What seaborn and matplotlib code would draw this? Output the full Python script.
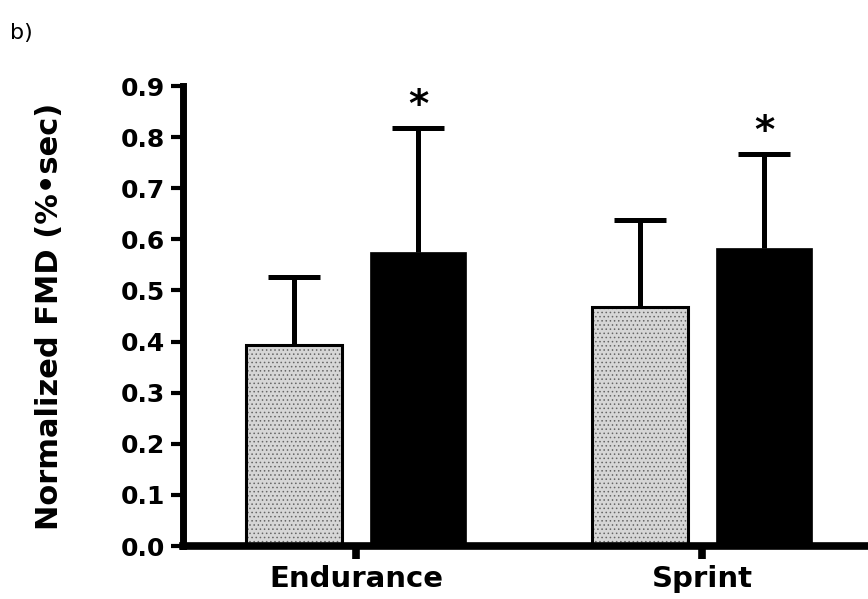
import matplotlib
matplotlib.use("Agg")
import matplotlib.pyplot as plt
import numpy as np
import pandas as pd
import seaborn as sns

# Data: normalized FMD means with upper SE, per training group
groups = ["Endurance", "Sprint"]
phases = ["Pre", "Post"]
pre_mean = [0.393, 0.468]
post_mean = [0.575, 0.583]
pre_err = [0.133, 0.170]
post_err = [0.243, 0.184]
yticks = [0.0, 0.1, 0.2, 0.3, 0.4, 0.5, 0.6, 0.7, 0.8, 0.9]

df = pd.DataFrame({
    "group": groups * 2,
    "phase": [phases[0]] * 2 + [phases[1]] * 2,
    "fmd": pre_mean + post_mean,
})
errs = {phases[0]: pre_err, phases[1]: post_err}
means = {phases[0]: pre_mean, phases[1]: post_mean}

sns.set_theme(style="white")
plt.rcParams["font.family"] = ["DejaVu Sans"]
plt.rcParams["text.color"] = "black"
plt.rcParams["axes.labelcolor"] = "black"
plt.rcParams["hatch.linewidth"] = 0.6

fig = plt.figure(figsize=(8.68, 5.99), dpi=100)
ax = fig.add_axes([183 / 868, 53 / 599, 685 / 868, 460 / 599])

gray = "#d6d6d6"
sns.barplot(data=df, x="group", y="fmd", hue="phase", order=groups,
            hue_order=phases, palette=[gray, "black"], width=0.72, gap=0.23,
            errorbar=None, legend=False, saturation=1, ax=ax)

for level, cont in zip(phases, ax.containers):
    for i, bar in enumerate(cont):
        bar.set_edgecolor("black")
        if level == phases[0]:
            bar.set_linewidth(2.2)
            bar.set_hatch("....")
            bar._hatch_color = (0.4, 0.4, 0.4, 1.0)
        else:
            bar.set_linewidth(0.5)
        xc = bar.get_x() + bar.get_width() / 2
        eb = ax.errorbar(xc, means[level][i], yerr=[[0], [errs[level][i]]],
                         fmt="none", ecolor="black", elinewidth=3.6,
                         capsize=18.5, capthick=3.6, zorder=1)
        # keep only the upper cap
        eb[1][0].set_visible(False)
        if level == phases[1]:
            ax.annotate("*", (xc, means[level][i] + errs[level][i]),
                        xytext=(0, 2), textcoords="offset points",
                        ha="center", va="bottom", fontsize=28,
                        fontweight="bold", color="black")

ax.set_xlim(-0.5, 1.48)
ax.set_ylim(0, 0.9)
ax.set_yticks(yticks)
ax.set_yticklabels([f"{v:.1f}" for v in yticks])
ax.set_xlabel("")
ax.set_ylabel("Normalized FMD (%\u2022sec)", fontsize=22, fontweight="bold",
              labelpad=41, color="black")

sns.despine(ax=ax, top=True, right=True)
ax.spines["left"].set_linewidth(5)
ax.spines["bottom"].set_linewidth(5.5)
ax.spines["left"].set_color("black")
ax.spines["bottom"].set_color("black")
ax.tick_params(axis="y", direction="out", length=9, width=3, pad=4,
               labelsize=18, left=True, colors="black")
ax.tick_params(axis="x", direction="out", length=9, width=5.5, pad=5,
               labelsize=21, bottom=True, colors="black")
for lab in ax.get_xticklabels() + ax.get_yticklabels():
    lab.set_fontweight("bold")

fig.text(10 / 868, 1 - 33 / 599, "b)", fontsize=16, va="center", ha="left",
         color="black")

fig.savefig("out.png", dpi=100)
